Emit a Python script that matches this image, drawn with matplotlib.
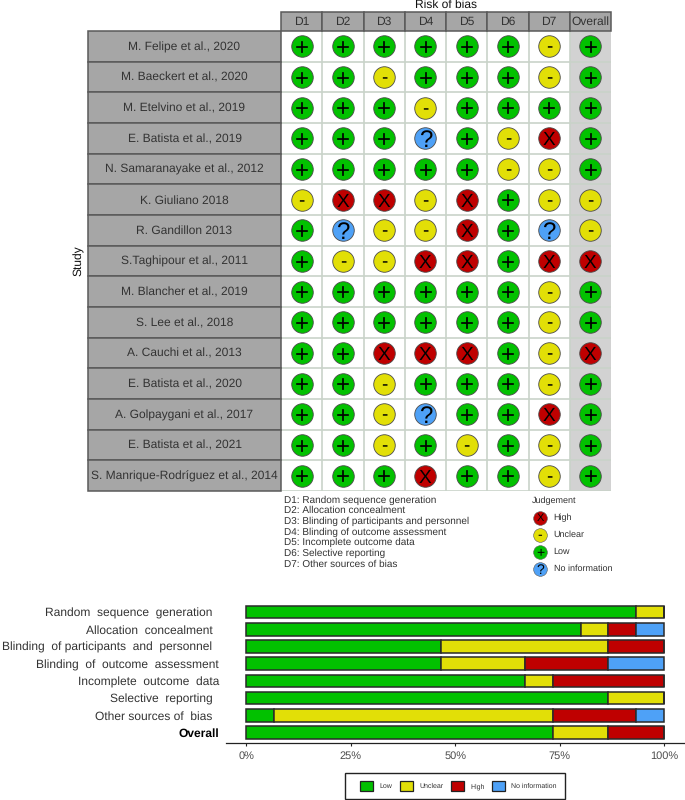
import matplotlib
matplotlib.use('Agg')
import matplotlib.pyplot as plt
from matplotlib.patches import Patch, Rectangle

plt.rcParams['font.family'] = ['Liberation Sans', 'DejaVu Sans']
plt.rcParams['text.hinting'] = 'no_hinting'
plt.rcParams['text.hinting_factor'] = 1

W, H = 685, 800

studies = ["M. Felipe et al., 2020", "M. Baeckert et al., 2020", "M. Etelvino et al., 2019",
           "E. Batista et al., 2019", "N. Samaranayake et al., 2012", "K. Giuliano 2018",
           "R. Gandillon 2013", "S.Taghipour et al., 2011", "M. Blancher et al., 2019",
           "S. Lee et al., 2018", "A. Cauchi et al., 2013", "E. Batista et al., 2020",
           "A. Golpaygani et al., 2017", "E. Batista et al., 2021",
           "S. Manrique-Rodríguez et al., 2014"]
domains = ["D1", "D2", "D3", "D4", "D5", "D6", "D7", "Overall"]
# one string per study, one sign per domain
judgements = ["++++++-+", "++-+++-+", "+++-++++", "+++?+-X+", "+++++--+",
              "-XX-X+--", "+?--X+?-", "+--XX+XX", "++++++-+", "++++++-+",
              "++XXX+-X", "++-+++-+", "++-?++X+", "++-+-+-+", "+++X++-+"]
domain_notes = ["D1: Random sequence generation", "D2: Allocation concealment",
                "D3: Blinding of participants and personnel", "D4: Blinding of outcome assessment",
                "D5: Incomplete outcome data", "D6: Selective reporting", "D7: Other sources of bias"]
legend_signs = ["X", "-", "+", "?"]
legend_names = ["High", "Unclear", "Low", "No information"]

bar_labels = ["Random  sequence  generation  ", "Allocation  concealment  ",
              "Blinding  of participants  and  personnel  ", "Blinding  of  outcome  assessment",
              "Incomplete  outcome  data", "Selective  reporting  ", "Other sources of  bias  ", "Overall"]
low = [93.3, 80.0, 46.7, 46.7, 66.7, 86.7, 6.7, 73.3]
unclear = [6.7, 6.7, 40.0, 20.0, 6.7, 13.3, 66.7, 13.3]
high = [0.0, 6.7, 13.3, 20.0, 26.6, 0.0, 20.0, 13.4]
no_info = [0.0, 6.6, 0.0, 13.3, 0.0, 0.0, 6.6, 0.0]

colors = {"+": "#02C100", "-": "#E2DF07", "X": "#BF0000", "?": "#4EA1F7"}
GREY = "#A6A6A6"
EDGE = "#5a5a5a"
TXT = "#333333"


def px_axes(fig, x0, y0, x1, y1):
    # axes from pixel box, y measured from the top
    return fig.add_axes([x0 / W, 1 - y1 / H, (x1 - x0) / W, (y1 - y0) / H])


fig = plt.figure(figsize=(W / 100, H / 100), dpi=100)

# traffic light grid
ax = px_axes(fig, 281, 31, 611, 491)
ax.set_xlim(-0.5, len(domains) - 0.5)
ax.set_ylim(len(studies) - 0.5, -0.5)
ax.axis('off')
ax.add_patch(Rectangle((6.5, -0.5), 1, len(studies), fc="#D2D2D2", ec="none", zorder=0))
for i in range(1, len(domains)):
    ax.axvline(i - 0.5, color="#C9D3C9", lw=1.2, zorder=1)
for i in range(1, len(studies) + 1):
    ax.axhline(i - 0.5, color="#C9D3C9", lw=1.2, zorder=1)

for r, row in enumerate(judgements):
    for c, sign in enumerate(row):
        ax.scatter(c, r, s=240, color=colors[sign], edgecolors="#4a4a4a", linewidths=0.6, zorder=2)
        ax.text(c, r - (0.02 if sign == "-" else 0), sign, ha='center', va='center_baseline',
                fontsize=17 if sign in "+?" else 14, color="black", zorder=3)

# study strip on the left, header strip on top
strip_left = -0.5 - 193 / 41.25
for r, name in enumerate(studies):
    ax.add_patch(Rectangle((strip_left, r - 0.5), 193 / 41.25, 1, fc=GREY, ec=EDGE, lw=1.1, clip_on=False))
    ax.text(strip_left + 193 / 82.5, r + 0.02, name, ha='center', va='center', fontsize=8.3, color=TXT)
head_h = 19 / 30.67
for c, name in enumerate(domains):
    ax.add_patch(Rectangle((c - 0.5, -0.5 - head_h), 1, head_h, fc=GREY, ec=EDGE, lw=1.1, clip_on=False))
    ax.text(c, -0.5 - head_h / 2, name, ha='center', va='center', fontsize=8.3, color=TXT)

fig.text(446 / W, 1 - 5 / H, "Risk of bias", ha='center', va='center', fontsize=8.3, color="#111111")
fig.text(79 / W, 1 - 261 / H, "Study", ha='center', va='center', rotation=90, fontsize=8.3, color="#111111")

# domain key
for i, note in enumerate(domain_notes):
    fig.text(284.5 / W, 1 - (500 + i * 10.65) / H, note, ha='left', va='center', fontsize=7.1, color=TXT)

# judgement key
fig.text(531.5 / W, 1 - 501 / H, "Judgement", ha='left', va='center', fontsize=6.6, color=TXT)
lax = px_axes(fig, 525, 509, 612, 577)
lax.set_xlim(0, 87)
lax.set_ylim(len(legend_signs) - 0.5, -0.5)
lax.axis('off')
for i, sign in enumerate(legend_signs):
    lax.scatter(15, i, s=97, color=colors[sign], edgecolors="#5a5a5a", linewidths=0.4, clip_on=False)
    lax.text(15, i, sign, ha='center', va='center_baseline', fontsize=8 if sign == "X" else 10, color="black")
    lax.text(28.5, i, legend_names[i], ha='left', va='center', fontsize=6.6, color=TXT)

# summary bars
bar_h = 17.24
bax = px_axes(fig, 226, 603.4, 685, 743)
bax.set_xlim(-20.5 / 4.175, 100 + 21 / 4.175)
bax.set_ylim(len(bar_labels) - 0.5 + 1.7 / bar_h, -0.5)
left = [0.0] * len(bar_labels)
for vals, key in [(low, "+"), (unclear, "-"), (high, "X"), (no_info, "?")]:
    bax.barh(range(len(bar_labels)), vals, left=left, height=0.73, color=colors[key],
             edgecolor="#2a2a2a", linewidth=1.1)
    left = [a + b for a, b in zip(left, vals)]

bax.set_yticks(range(len(bar_labels)))
bax.set_yticklabels(bar_labels, fontsize=8.7, color=TXT)
bax.get_yticklabels()[-1].set_fontweight('bold')
bax.get_yticklabels()[-1].set_color('black')
bax.tick_params(axis='y', length=0, pad=5)
bax.set_xticks([0, 25, 50, 75, 100])
bax.set_xticklabels(["0%", "25%", "50%", "75%", "100%"], fontsize=8.2, color="#4d4d4d")
bax.tick_params(axis='x', length=2.5, width=0.8, color="#222222", pad=3)
for s in ["top", "left", "right"]:
    bax.spines[s].set_visible(False)
bax.spines["bottom"].set_color("#222222")
bax.spines["bottom"].set_linewidth(0.9)

# legend frame is drawn apart, the box is wider than the entries need
fig.add_artist(Rectangle((345 / W, 1 - 799 / H), 220 / W, 26 / H, transform=fig.transFigure,
                         fc="white", ec="#222222", lw=1.0))
handles = [Patch(fc=colors[k], ec="#222222", lw=0.9, label=n)
           for k, n in [("+", "Low"), ("-", "Unclear"), ("X", "High"), ("?", "No information")]]
leg = fig.legend(handles=handles, loc='center', bbox_to_anchor=(458.5 / W, 1 - 786 / H), ncol=4,
                 fontsize=5.4, frameon=False, handlelength=1.7, handleheight=1.7,
                 handletextpad=0.88, columnspacing=1.0, labelcolor=TXT)

fig.savefig("out.png", dpi=100)
